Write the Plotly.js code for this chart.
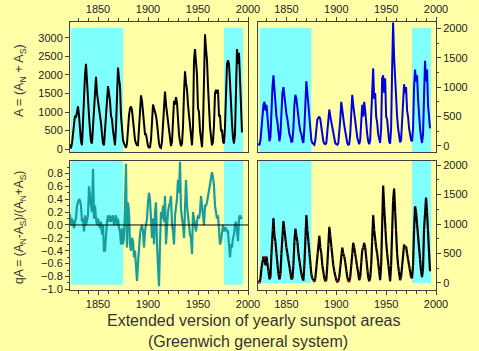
<!DOCTYPE html>
<html><head><meta charset="utf-8">
<script src="https://cdn.plot.ly/plotly-3.0.1.min.js"></script>
<style>html,body{margin:0;padding:0;background:#FFFFA8;}#c{width:479px;height:351px;}</style>
</head><body><div id="c"></div>
<script>
const years = [1821,1822,1823,1824,1825,1826,1827,1828,1829,1830,1831,1832,1833,1834,1835,1836,1837,1838,1839,1840,1841,1842,1843,1844,1845,1846,1847,1848,1849,1850,1851,1852,1853,1854,1855,1856,1857,1858,1859,1860,1861,1862,1863,1864,1865,1866,1867,1868,1869,1870,1871,1872,1873,1874,1875,1876,1877,1878,1879,1880,1881,1882,1883,1884,1885,1886,1887,1888,1889,1890,1891,1892,1893,1894,1895,1896,1897,1898,1899,1900,1901,1902,1903,1904,1905,1906,1907,1908,1909,1910,1911,1912,1913,1914,1915,1916,1917,1918,1919,1920,1921,1922,1923,1924,1925,1926,1927,1928,1929,1930,1931,1932,1933,1934,1935,1936,1937,1938,1939,1940,1941,1942,1943,1944,1945,1946,1947,1948,1949,1950,1951,1952,1953,1954,1955,1956,1957,1958,1959,1960,1961,1962,1963,1964,1965,1966,1967,1968,1969,1970,1971,1972,1973,1974,1975,1976,1977,1978,1979,1980,1981,1982,1983,1984,1985,1986,1987,1988,1989,1990,1991,1992,1993,1994];

// A = (A_N + A_S)  (top left)
const areaTotal = [150,60,20,150,450,700,900,850,1050,1150, 900,500,200,100,700,1600,2000,2300,1700,1400, 900,500,200,150,600,1300,1600,1950,1500,1300, 1200,900,700,400,150,100,500,1200,1550,1700, 1500,1300,900,800,500,250,100,600,1500,2200, 1900,1700,900,500,250,150,100,30,150,600, 900,1100,1150,1050,800,450,250,150,100,100, 500,1200,1450,1300,1000,700,400,400,150,80, 40,50,250,600,1200,1100,1000,900,700,400, 150,50,30,200,800,1300,1550,1200,1000,650, 500,250,80,200,700,1300,1200,1400,1250,700, 400,200,80,150,600,1500,2100,1800,1600,1200, 900,600,300,100,600,2400,2700,2200,2000,1100, 1000,500,150,50,600,1900,3100,2700,2400,1700, 900,600,350,100,200,650,1500,1600,1500,1600, 900,900,500,500,200,150,600,1800,2300,2400, 2300,1800,1000,700,300,150,400,1800,2700,2300, 2600,1900,1000,450];

// top right (blue)
const areaNorth = [30,20,20,100,300,550,700,750,600,700, 500,250,80,150,700,1000,1200,900,700,500, 400,200,80,200,600,900,1000,850,600,550, 450,300,200,150,60,80,300,700,870,800, 600,500,350,250,200,100,50,300,800,1100, 900,700,400,250,100,50,30,20,100,300, 450,480,500,450,300,150,80,40,30,50, 250,550,620,500,400,300,200,120,50,30, 20,40,200,450,750,600,400,350,250,100, 50,20,30,200,550,870,700,550,400,250, 150,80,30,100,400,700,500,750,600,300, 200,80,30,100,500,900,1320,800,900,500, 400,200,100,50,300,1150,1200,900,1150,500, 450,250,80,40,300,1300,2100,1500,1100,700, 500,300,150,60,100,450,900,1050,900,1000, 600,500,300,200,100,80,300,1000,1300,1100, 1200,800,500,300,150,50,200,1000,1450,1100, 1300,700,500,300];

// bottom right (black)
const areaSouth = [30,10,10,80,250,400,450,420,300,450, 350,200,60,100,500,900,1100,800,700,500, 300,150,60,150,500,800,1050,900,700,600, 500,400,250,150,60,80,300,700,920,800, 700,500,350,250,150,80,40,300,800,1150, 900,700,500,300,150,80,40,20,80,300, 500,700,800,600,500,300,150,80,30,50, 300,650,950,800,600,400,300,200,100,50, 20,30,100,300,500,600,500,450,350,200, 100,40,20,100,300,500,680,600,500,400, 300,150,50,100,350,550,600,680,600,400, 200,100,30,80,300,700,1150,900,700,600, 500,350,200,50,300,1200,1650,1300,900,700, 500,300,100,30,300,900,1400,1600,1200,900, 500,300,200,50,100,300,550,650,600,620, 500,400,300,250,100,80,300,900,1300,1200, 1000,850,500,400,200,100,250,900,1300,1450, 1200,900,500,200];

// qA = (A_N - A_S)/(A_N + A_S)  (bottom left)
const asymmetry = [0.18,0.15,0.0,0.1,0.05,-0.05,0.05,0.1,0.3,0.38, 0.4,0.38,0.3,0.05,0.1,-0.1,0.15,0.0,0.1,0.15, 0.6,0.4,0.3,0.2,0.87,0.1,0.3,0.1,0.0,0.1, 0.0,-0.05,0.05,-0.15,0.0,-0.4,-0.4,-0.1,0.05,0.15, 0.05,0.15,0.05,0.1,0.15,0.0,0.1,0.15,0.0,0.1, -0.05,-0.1,-0.3,-0.05,-0.3,-0.2,0.3,0.95,-0.35,0.35, 0.2,-0.3,-0.4,-0.2,-0.25,-0.5,-0.4,-0.65,-0.87,-0.6, -0.3,-0.15,-0.05,0.0,-0.1,-0.35,-0.1,0.0,0.1,0.35, 0.5,0.4,0.0,-0.2,0.1,-0.3,0.2,0.35,-0.3,-0.6, -0.95,-0.3,0.2,0.1,0.3,0.05,0.45,-0.3,0.1,0.2, 0.3,0.35,0.45,0.0,-0.1,-0.3,0.15,0.3,0.4,0.7, 0.5,0.98,0.25,0.1,0.0,-0.2,0.3,0.7,0.3,0.1, 0.0,-0.15,-0.2,-0.45,0.2,0.1,0.0,-0.1,0.05,0.15, 0.1,0.2,0.45,0.25,0.1,0.0,0.3,0.3,0.35,0.45, 0.5,0.6,0.75,0.82,0.75,0.6,0.3,0.15,0.1,0.15, -0.2,-0.3,-0.25,-0.1,0.0,-0.1,-0.05,-0.05,-0.1,-0.1, -0.3,-0.5,-0.3,-0.35,-0.2,-0.15,0.0,0.05,-0.1,-0.25, 0.1,0.15,0.1,0.12];

const extendedBands = [[1823, 1875], [1976, 1995]];
const xTicks = [1850, 1900, 1950, 2000];

const W = 479, H = 351;
const px = v => v / W, py = v => 1 - v / H;
const BG = '#FFFFA8', CYAN = '#80FFFF', AX = '#404040';
const FAM = 'Liberation Sans, Arial, sans-serif';
const tf = {family: FAM, size: 11, color: '#222'};

function xa(dom, range, side) {
  return {domain: dom, range: range, side: side, tickmode: 'array', tickvals: xTicks,
    ticks: 'outside', ticklen: 4, tickcolor: AX, tickfont: tf, showline: true, linecolor: AX,
    linewidth: 1, mirror: true, showgrid: false, zeroline: false, fixedrange: true,
    minor: {dtick: 10, tick0: 1850, ticks: 'outside', ticklen: 3, tickcolor: AX}};
}
function ya(dom, range, side, dtick, minor, fmt) {
  const a = {domain: dom, range: range, side: side, dtick: dtick, tick0: 0,
    ticks: 'outside', ticklen: 4, tickcolor: AX, tickfont: tf, showline: true, linecolor: AX,
    linewidth: 1, mirror: true, showgrid: false, zeroline: false, fixedrange: true};
  if (minor) a.minor = {dtick: minor, ticks: 'outside', ticklen: 2, tickcolor: AX};
  if (fmt) a.tickformat = fmt;
  return a;
}

const topDom = [py(152), py(22)], botDom = [py(290), py(161)];
const leftDom = [px(70), px(248)], rightDom = [px(258), px(436)];

const traces = [
  {x: years, y: areaTotal, xaxis: 'x', yaxis: 'y', mode: 'lines', line: {color: '#000', width: 2}},
  {x: years, y: areaNorth, xaxis: 'x2', yaxis: 'y2', mode: 'lines', line: {color: '#0000DD', width: 2}},
  {x: years, y: asymmetry, xaxis: 'x3', yaxis: 'y3', mode: 'lines+markers', line: {color: '#159E9E', width: 2.2},
    marker: {color: '#FF4040', size: 0.9}},
  {x: years, y: areaSouth, xaxis: 'x4', yaxis: 'y4', mode: 'lines+markers', line: {color: '#000', width: 2.2},
    marker: {color: '#FF2020', size: 1.2}}
];

const shapes = [];
const bandY = {'': [0, 0.954], '2': [0, 0.954], '3': [0.04, 1], '4': [0.054, 1]};
for (const k of ['', '2', '3', '4']) {
  for (const b of extendedBands) {
    shapes.push({type: 'rect', layer: 'below', xref: 'x' + k, yref: 'y' + k + ' domain',
      x0: b[0], x1: b[1], y0: bandY[k][0], y1: bandY[k][1], fillcolor: CYAN, line: {width: 0}});
  }
}
shapes.push({type: 'line', layer: 'above', xref: 'x3 domain', yref: 'y3', x0: 0, x1: 1, y0: 0, y1: 0,
  line: {color: '#000', width: 1}});

const titleFont = {family: FAM, size: 12.5, color: '#333'};
const annotations = [
  {text: 'A = (A<sub>N</sub> + A<sub>S</sub>)', textangle: -90, xref: 'paper', yref: 'paper',
    x: px(20), y: py(81), showarrow: false, font: titleFont, xanchor: 'center', yanchor: 'middle'},
  {text: 'qA = (A<sub>N</sub>-A<sub>S</sub>)/(A<sub>N</sub>+A<sub>S</sub>)', textangle: -90, xref: 'paper', yref: 'paper',
    x: px(20), y: py(228), showarrow: false, font: {family: FAM, size: 12, color: '#333'}, xanchor: 'center', yanchor: 'middle'},
  {text: 'Extended version of yearly sunspot areas', xref: 'paper', yref: 'paper', x: px(254), y: py(320),
    showarrow: false, xanchor: 'center', yanchor: 'middle', font: {family: FAM, size: 16, color: '#333'}},
  {text: '(Greenwich general system)', xref: 'paper', yref: 'paper', x: px(248), y: py(341),
    showarrow: false, xanchor: 'center', yanchor: 'middle', font: {family: FAM, size: 16, color: '#333'}}
];

const layout = {
  width: W, height: H, margin: {l: 0, r: 0, t: 0, b: 0}, showlegend: false,
  paper_bgcolor: BG, plot_bgcolor: BG,
  xaxis: Object.assign(xa(leftDom, [1822, 2000], 'top'), {anchor: 'y'}),
  yaxis: Object.assign(ya(topDom, [-81, 3432], 'left', 500, null), {anchor: 'x'}),
  xaxis2: Object.assign(xa(rightDom, [1821.5, 2000], 'top'), {anchor: 'y2'}),
  yaxis2: Object.assign(ya(topDom, [-103, 2108], 'right', 500, 250), {anchor: 'x2'}),
  xaxis3: Object.assign(xa(leftDom, [1822, 2000], 'bottom'), {anchor: 'y3'}),
  yaxis3: Object.assign(ya(botDom, [-1.01, 0.994], 'left', 0.2, 0.1, '.1f'), {anchor: 'x3'}),
  xaxis4: Object.assign(xa(rightDom, [1821.5, 2000], 'bottom'), {anchor: 'y4'}),
  yaxis4: Object.assign(ya(botDom, [-119, 2068], 'right', 500, 250), {anchor: 'x4'}),
  shapes: shapes, annotations: annotations
};

Plotly.newPlot('c', traces, layout, {staticPlot: true, displayModeBar: false});
</script></body></html>
